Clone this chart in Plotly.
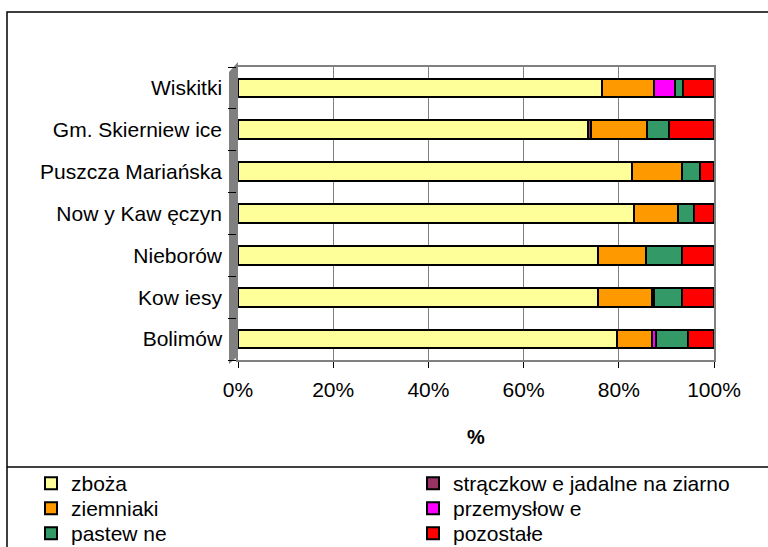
import plotly.graph_objects as go

categories = ["Bolimów", "Kow iesy", "Nieborów", "Now y Kaw ęczyn",
              "Puszcza Mariańska", "Gm. Skierniew ice", "Wiskitki"]

series_names = ["zboża", "strączkow e jadalne na ziarno", "ziemniaki",
                "przemysłow e", "pastew ne", "pozostałe"]

zboza        = [79.6, 75.6, 75.7, 83.2, 82.8, 73.5, 76.4]
straczkowe   = [0.0, 0.0, 0.0, 0.0, 0.0, 0.7, 0.0]
ziemniaki    = [7.3, 11.3, 10.0, 9.3, 10.4, 11.7, 11.0]
przemyslowe  = [0.9, 0.4, 0.0, 0.0, 0.0, 0.0, 4.5]
pastewne     = [6.8, 5.9, 7.5, 3.3, 3.9, 4.7, 1.6]
pozostale    = [5.4, 6.8, 6.8, 4.2, 2.9, 9.4, 6.5]

x_ticks = [0, 20, 40, 60, 80, 100]

colors = ["#FFFF99", "#993366", "#FF9900", "#FF00FF", "#339966", "#FF0000"]
values = [zboza, straczkowe, ziemniaki, przemyslowe, pastewne, pozostale]

FONT = "Liberation Sans, Arial, sans-serif"
W, H = 768, 547

# legend grid: two columns, three rows (row-wise order as in the reference)
leg_x = [31, 413]
leg_rows = [483, 508, 533]

fig = go.Figure()
leg_layout = {}
for i, (name, vals, col) in enumerate(zip(series_names, values, colors)):
    lid = "legend" if i == 0 else f"legend{i + 1}"
    fig.add_trace(go.Bar(
        y=categories, x=vals, name=name, orientation="h", legend=lid,
        marker=dict(color=col, line=dict(color="black", width=2)),
    ))
    leg_layout[lid] = dict(
        orientation="v", xref="container", yref="container",
        x=leg_x[i % 2] / W, y=1 - (leg_rows[i // 2] - 20) / H,
        xanchor="left", yanchor="top",
        font=dict(size=21, family=FONT), itemsizing="constant",
        bgcolor="rgba(0,0,0,0)")

# page geometry (px) -> paper coordinates
L, R, T, B = 238, 54, 67, 187
pw, ph = W - L - R, H - T - B
def px(xp): return (xp - L) / pw
def py(yp): return (H - B - yp) / ph

shapes = [
    dict(type="rect", xref="paper", yref="paper", x0=px(7), x1=px(790),
         y0=py(600), y1=py(12), line=dict(color="black", width=1.5)),
    dict(type="line", xref="paper", yref="paper", x0=px(7), x1=px(790),
         y0=py(467), y1=py(467), line=dict(color="black", width=1.5)),
    dict(type="path", xref="paper", yref="paper", layer="below",
         path=f"M {px(229)},{py(364)} L {px(238)},{py(356)} L {px(238)},{py(62)} L {px(229)},{py(72)} Z",
         fillcolor="#808080", line=dict(width=0)),
]

fig.update_layout(
    width=W, height=H,
    margin=dict(l=L, r=R, t=T, b=B, autoexpand=False),
    paper_bgcolor="white", plot_bgcolor="white",
    barmode="stack", bargap=0.55,
    font=dict(family=FONT, size=20, color="black"),
    showlegend=True,
    shapes=shapes,
    annotations=[dict(text="<b>%</b>", xref="paper", yref="paper",
                      x=0.5, y=py(437), yanchor="middle", showarrow=False,
                      font=dict(size=20, family=FONT))],
    **leg_layout,
)

fig.update_xaxes(range=[0, 100], tickvals=x_ticks,
                 ticktext=[f"{v}%" for v in x_ticks],
                 showgrid=True, gridcolor="#808080", gridwidth=1,
                 zeroline=False, showline=True, linecolor="#808080",
                 linewidth=1.5, mirror=True,
                 ticks="outside", ticklen=6, tickcolor="black",
                 ticklabelstandoff=4, tickfont=dict(size=21))
fig.update_yaxes(categoryorder="array", categoryarray=categories,
                 range=[-0.5, 6.5], showgrid=False, zeroline=False,
                 showline=True, linecolor="#808080", linewidth=1.5,
                 mirror=True, ticks="outside", tickson="boundaries",
                 ticklen=8, tickcolor="black", ticklabelstandoff=10,
                 tickfont=dict(size=21))

fig.write_html("out.html", config={"displayModeBar": False},
               post_script="document.body.style.margin='0';")
